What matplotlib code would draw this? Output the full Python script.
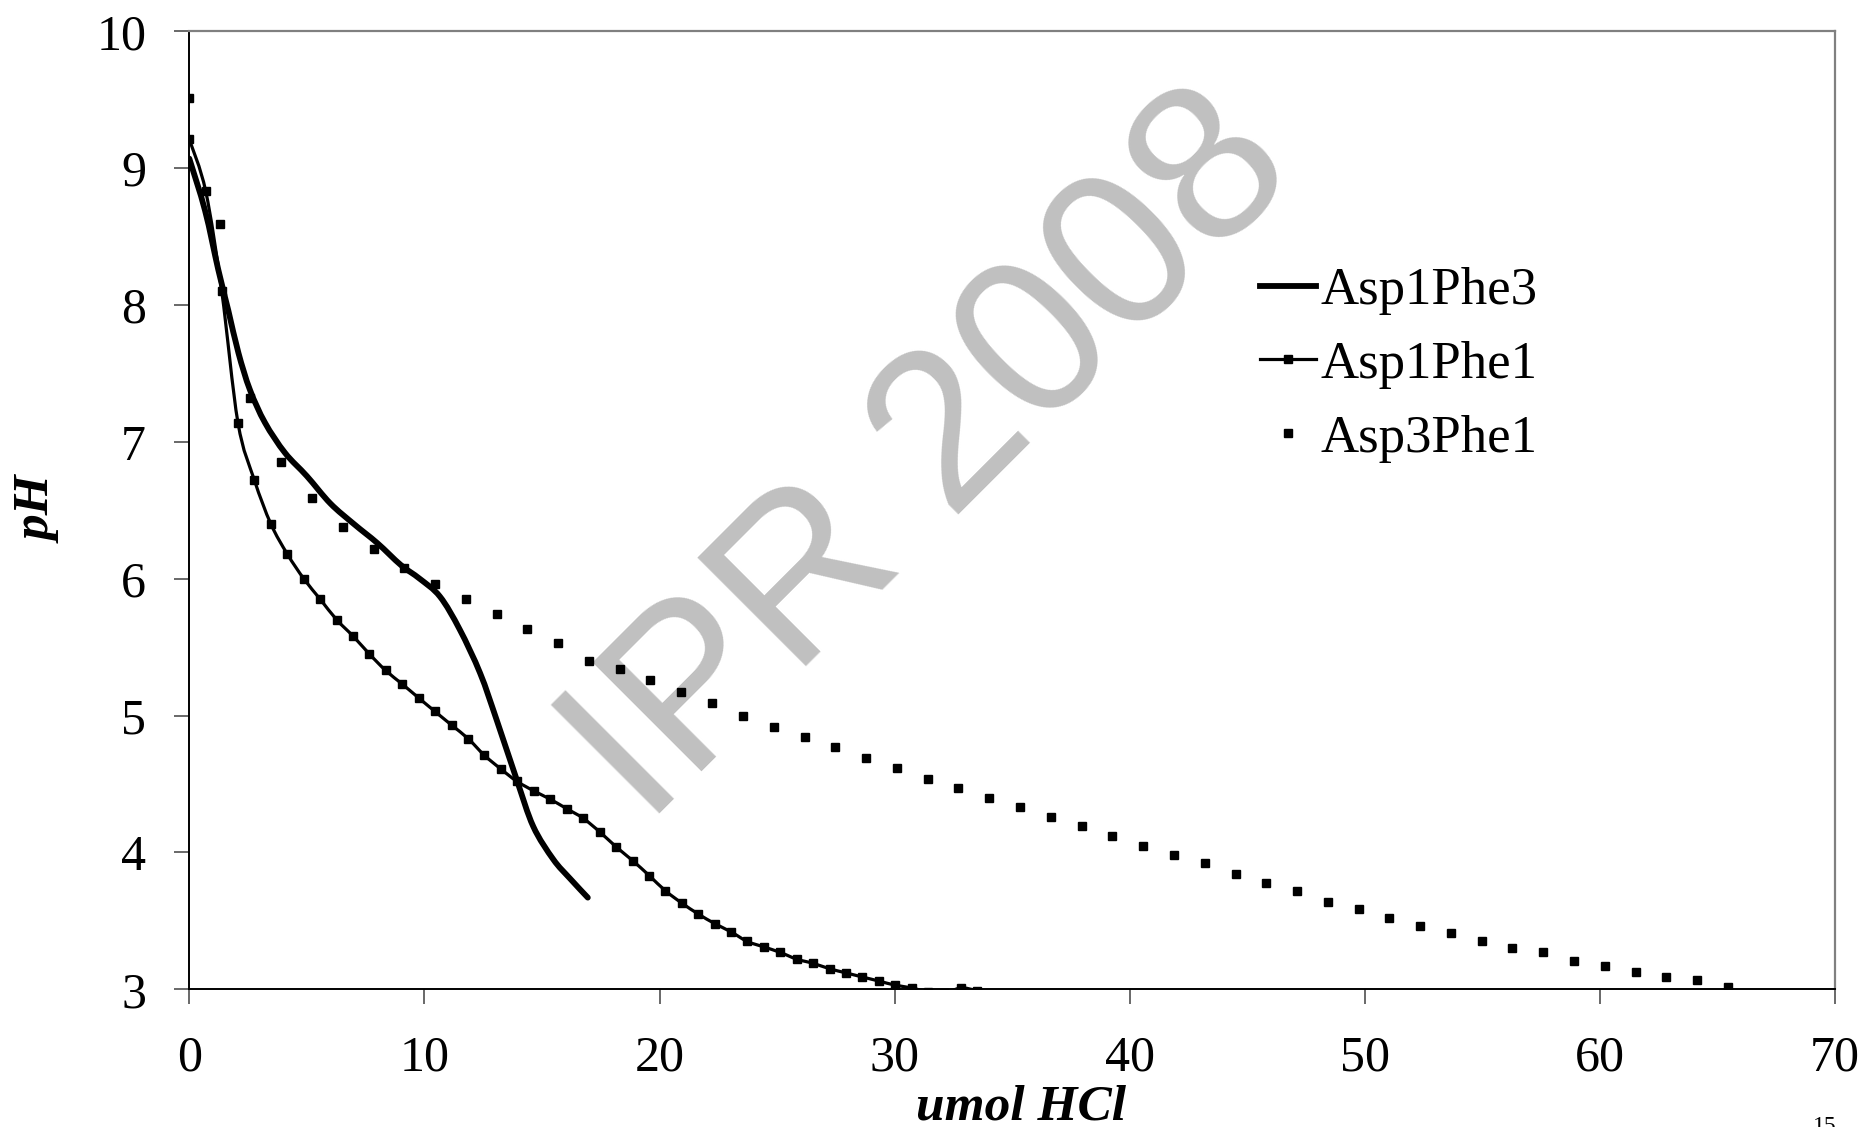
import numpy as np
import matplotlib
matplotlib.use("Agg")
import matplotlib.pyplot as plt
from matplotlib.path import Path
from matplotlib.patches import PathPatch
from matplotlib.lines import Line2D

# ---------------- data ----------------
asp1phe3_x = [0, 0.67, 1.23, 1.66, 2.09, 2.58, 3.22, 4.07, 5.0, 6.0, 7.0, 8.0, 9.0,
              9.8, 10.66, 11.5, 12.37, 13.07, 13.93, 14.63, 15.48, 16.19, 16.95]
asp1phe3_y = [9.07, 8.69, 8.26, 7.96, 7.65, 7.38, 7.14, 6.92, 6.75, 6.55, 6.40, 6.26, 6.10,
              6.00, 5.87, 5.63, 5.31, 4.97, 4.53, 4.19, 3.95, 3.81, 3.67]

asp1phe1_x = [0, 0.70, 1.38, 2.07, 2.77, 3.47, 4.17, 4.87, 5.57, 6.27, 6.97, 7.66, 8.35,
              9.06, 9.75, 10.45, 11.16, 11.87, 12.55, 13.25, 13.93, 14.65, 15.34, 16.05,
              16.75, 17.46, 18.16, 18.86, 19.57, 20.25, 20.95, 21.65, 22.35, 23.04, 23.73,
              24.43, 25.13, 25.84, 26.53, 27.24, 27.93, 28.63, 29.34, 30.03, 30.73, 31.43,
              32.12, 32.81, 33.50, 34.20]
asp1phe1_y = [9.21, 8.83, 8.10, 7.14, 6.72, 6.40, 6.18, 6.00, 5.85, 5.70, 5.58, 5.45, 5.33,
              5.23, 5.13, 5.03, 4.93, 4.83, 4.71, 4.61, 4.52, 4.45, 4.39, 4.32,
              4.25, 4.15, 4.04, 3.94, 3.83, 3.72, 3.63, 3.55, 3.48, 3.42, 3.35,
              3.31, 3.27, 3.22, 3.19, 3.15, 3.12, 3.09, 3.06, 3.03, 3.01, 2.98,
              2.97, 3.01, 2.99, 2.96]

asp3phe1_x = [0, 1.29, 2.58, 3.90, 5.23, 6.53, 7.84, 9.14, 10.45, 11.77, 13.07, 14.38,
              15.70, 17.01, 18.31, 19.61, 20.93, 22.24, 23.55, 24.86, 26.17, 27.48, 28.78,
              30.10, 31.41, 32.71, 34.03, 35.33, 36.64, 37.96, 39.26, 40.57, 41.88, 43.20,
              44.51, 45.81, 47.12, 48.43, 49.74, 51.04, 52.35, 53.67, 54.97, 56.27, 57.59,
              58.90, 60.22, 61.52, 62.82, 64.13, 65.45]
asp3phe1_y = [9.51, 8.59, 7.32, 6.85, 6.59, 6.38, 6.22, 6.08, 5.96, 5.85, 5.74, 5.63,
              5.53, 5.40, 5.34, 5.26, 5.17, 5.09, 5.00, 4.92, 4.84, 4.77, 4.69,
              4.62, 4.54, 4.47, 4.40, 4.33, 4.26, 4.19, 4.12, 4.05, 3.98, 3.92,
              3.84, 3.78, 3.72, 3.64, 3.59, 3.52, 3.46, 3.41, 3.35, 3.30, 3.27,
              3.21, 3.17, 3.13, 3.09, 3.07, 3.02]

series_names = ["Asp1Phe3", "Asp1Phe1", "Asp3Phe1"]
x_ticks = [0, 10, 20, 30, 40, 50, 60, 70]
y_ticks = [3, 4, 5, 6, 7, 8, 9, 10]
x_label = "umol HCl"
y_label = "pH"
watermark = "IPR 2008"
page_no = "15"

# ---------------- figure ----------------
W, H, DPI = 1868, 1127, 100
fig = plt.figure(figsize=(W / DPI, H / DPI), dpi=DPI)
plt.rcParams['font.family'] = ['Liberation Serif', 'DejaVu Serif']

L, R, T, B = 189.3, 1835.0, 31.3, 989.3
ax = fig.add_axes([L / W, 1 - B / H, (R - L) / W, (B - T) / H])
ax.set_xlim(0, 70)
ax.set_ylim(3, 10)


def smooth_path(xs, ys):
    """Excel-like smoothed line: cubic Bezier segments through the data points."""
    pts = np.column_stack([xs, ys]).astype(float)
    n = len(pts)
    verts = [pts[0]]
    codes = [Path.MOVETO]
    for i in range(n - 1):
        p0 = pts[i - 1] if i > 0 else pts[i]
        p1 = pts[i]
        p2 = pts[i + 1]
        p3 = pts[i + 2] if i + 2 < n else pts[i + 1]
        c1 = p1 + (p2 - p0) / 6.0
        c2 = p2 - (p3 - p1) / 6.0
        verts += [c1, c2, p2]
        codes += [Path.CURVE4] * 3
    return Path(verts, codes)


# watermark (behind the data)
ax.text(645.2 / W, 1 - 827.1 / H, watermark, transform=fig.transFigure,
        rotation=45, rotation_mode='anchor', ha='left', va='baseline',
        fontsize=160, color='#c0c0c0', family=['Liberation Sans', 'DejaVu Sans'],
        zorder=0.5)

# Asp1Phe3 : thick smooth line
p1 = PathPatch(smooth_path(asp1phe3_x, asp1phe3_y), fill=False, lw=4.2,
               edgecolor='black', capstyle='round', joinstyle='round',
               transform=ax.transData, zorder=3)
ax.add_patch(p1)

# Asp1Phe1 : thin smooth line with small squares
p2 = PathPatch(smooth_path(asp1phe1_x, asp1phe1_y), fill=False, lw=2.3,
               edgecolor='black', transform=ax.transData, zorder=3)
ax.add_patch(p2)
ax.plot(asp1phe1_x, asp1phe1_y, linestyle='none', marker='s', markersize=5.4,
        color='black', zorder=4)

# Asp3Phe1 : squares only
ax.plot(asp3phe1_x, asp3phe1_y, linestyle='none', marker='s', markersize=5.8,
        color='black', zorder=4)

# axes styling
for s in ['top', 'right']:
    ax.spines[s].set_color('#808080')
    ax.spines[s].set_linewidth(1.6)
for s in ['left', 'bottom']:
    ax.spines[s].set_color('black')
    ax.spines[s].set_linewidth(1.4)

ax.set_xticks(x_ticks)
ax.set_yticks(y_ticks)
ax.set_xticklabels([str(v) for v in x_ticks])
ax.set_yticklabels([str(v) for v in y_ticks])
ax.tick_params(axis='both', direction='out', length=11, width=1.1, color='#404040',
               labelsize=36, labelcolor='black')
ax.tick_params(axis='x', pad=22)
ax.tick_params(axis='y', pad=20)

fig.text(1021 / W, 1 - 1119 / H, x_label, ha='center', va='baseline',
         fontsize=37, fontweight='bold', fontstyle='italic')
fig.text(40 / W, 1 - 510 / H, y_label, ha='center', va='center', rotation=90,
         fontsize=37, fontweight='bold', fontstyle='italic')

# legend
handles = [
    Line2D([], [], color='black', lw=4.2),
    Line2D([], [], color='black', lw=2.3, marker='s', markersize=5.4),
    Line2D([], [], color='black', linestyle='none', marker='s', markersize=5.8),
]
ax.legend(handles, series_names, loc='upper left', frameon=False,
          bbox_to_anchor=(1260 / W, 1 - 267 / H), bbox_transform=fig.transFigure,
          fontsize=38, borderpad=0, borderaxespad=0, handlelength=1.06,
          handletextpad=0.08, labelspacing=0.49)

# page number, cut off at the bottom edge (as in the original page scan)
fig.text(1825 / W, 1 - 1116 / H, page_no, ha='center', va='top', fontsize=17)

fig.savefig("out.png", dpi=DPI)
